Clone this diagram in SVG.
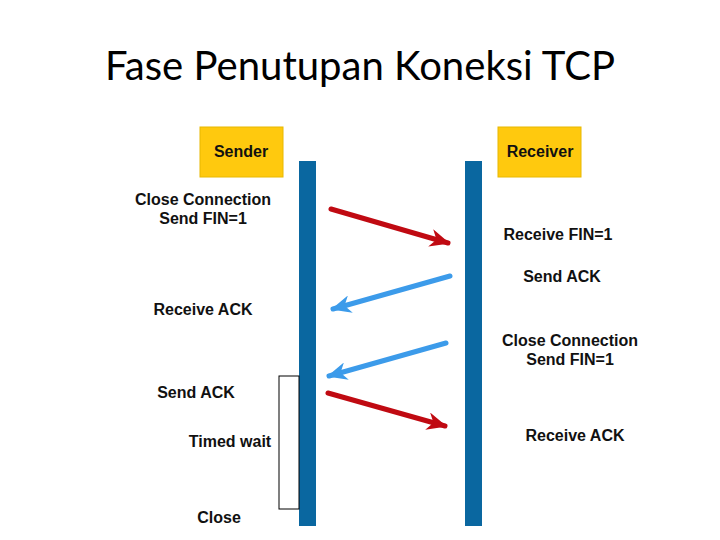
<svg xmlns="http://www.w3.org/2000/svg" width="720" height="540" viewBox="0 0 720 540">
<defs>
<style>
.lbl{font-family:"Liberation Sans",Arial,sans-serif;font-weight:bold;font-size:16px;fill:#111;text-anchor:middle}
.hdr{fill:#ffc90e;stroke:#e8b800;stroke-width:1}
.bar{fill:#0a67a0}
.red{stroke:#c00a12;stroke-width:5;stroke-linecap:round;fill:none}
.blue{stroke:#3c9bea;stroke-width:5;stroke-linecap:round;fill:none}
</style>
<marker id="ar" viewBox="0 0 20 18" refX="18" refY="9" markerWidth="20" markerHeight="18" markerUnits="userSpaceOnUse" orient="auto">
<path d="M0,0 L20,9 L0,18 L6,9 Z" fill="#c00a12"/>
</marker>
<marker id="ab" viewBox="0 0 20 18" refX="18" refY="9" markerWidth="20" markerHeight="18" markerUnits="userSpaceOnUse" orient="auto">
<path d="M0,0 L20,9 L0,18 L6,9 Z" fill="#3c9bea"/>
</marker>
</defs>
<rect width="720" height="540" fill="#fff"/>
<text x="360" y="80" font-family="Lato,'Liberation Sans',sans-serif" font-size="40" fill="#000" text-anchor="middle" textLength="510" lengthAdjust="spacingAndGlyphs">Fase Penutupan Koneksi TCP</text>
<g id="sender">
<rect class="hdr" x="200" y="127" width="83" height="50"/>
<text class="lbl" x="241" y="157">Sender</text>
<rect class="bar" x="299" y="161" width="17" height="365"/>
</g>
<g id="receiver">
<rect class="hdr" x="498" y="127" width="83" height="50"/>
<text class="lbl" x="540" y="157">Receiver</text>
<rect class="bar" x="465" y="161" width="17" height="365"/>
</g>
<g id="timedwait">
<rect x="279" y="376" width="20" height="133" fill="#fff" stroke="#000" stroke-width="1"/>
</g>
<g id="labels">
<text class="lbl" x="203" y="205">Close Connection</text>
<text class="lbl" x="203" y="224">Send FIN=1</text>
<text class="lbl" x="558" y="240">Receive FIN=1</text>
<text class="lbl" x="562" y="282">Send ACK</text>
<text class="lbl" x="203" y="315">Receive ACK</text>
<text class="lbl" x="570" y="346">Close Connection</text>
<text class="lbl" x="570" y="365">Send FIN=1</text>
<text class="lbl" x="196" y="398">Send ACK</text>
<text class="lbl" x="575" y="441">Receive ACK</text>
<text class="lbl" x="230" y="447">Timed wait</text>
<text class="lbl" x="219" y="523">Close</text>
</g>
<g id="connectors">
<line class="red" x1="331" y1="209" x2="448" y2="243" marker-end="url(#ar)"/>
<line class="blue" x1="450" y1="276" x2="333" y2="309" marker-end="url(#ab)"/>
<line class="blue" x1="446" y1="343" x2="329" y2="376" marker-end="url(#ab)"/>
<line class="red" x1="328" y1="393" x2="445" y2="426" marker-end="url(#ar)"/>
</g>
</svg>
